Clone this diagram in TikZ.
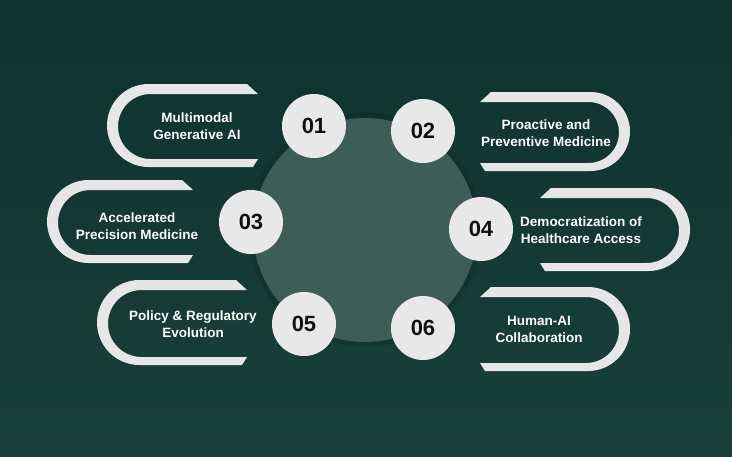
\documentclass[tikz,border=0pt]{standalone}
\usepackage{fontspec}
\setmainfont{Liberation Sans}
\definecolor{bgtop}{HTML}{0E322D}
\definecolor{bgbot}{HTML}{1A403A}
\definecolor{bigc}{HTML}{3D5E57}
\definecolor{shapec}{HTML}{E6E6E6}
\definecolor{numc}{HTML}{E8E8E8}
\definecolor{numtxt}{HTML}{111111}
\tikzset{
  bracketfill/.style={fill=shapec, draw=none},
  numcircle/.style={circle, fill=numc, minimum size=64pt, inner sep=0pt, text=numtxt, font=\fontsize{22}{24}\selectfont\bfseries},
  label/.style={text=white, align=center, font=\fontsize{13.5}{17}\selectfont\bfseries}
}
% left-facing bracket: L,T,B,R (pixel coords, y down)
\newcommand{\myLbracket}[4]{%
  \pgfmathsetmacro{\ro}{(#3-#2)/2}%
  \pgfmathsetmacro{\ri}{((#3-8)-(#2+10))/2}%
  \fill[bracketfill] (#4-11,#2) -- (#1+\ro,#2) arc[start angle=270,end angle=90,radius=\ro]
    -- (#4-5,#3) -- (#4,#3-8) -- (#1+11+\ri,#3-8) arc[start angle=90,end angle=270,radius=\ri]
    -- (#4,#2+10) -- cycle;}
% right-facing bracket: Rr,T,B,Lend
\newcommand{\myRbracket}[4]{%
  \pgfmathsetmacro{\ro}{(#3-#2)/2}%
  \pgfmathsetmacro{\ri}{((#3-8)-(#2+10))/2}%
  \fill[bracketfill] (#4+11,#2) -- (#1-\ro,#2) arc[start angle=270,end angle=450,radius=\ro]
    -- (#4+5,#3) -- (#4,#3-8) -- (#1-11-\ri,#3-8) arc[start angle=90,end angle=-90,radius=\ri]
    -- (#4,#2+10) -- cycle;}
\begin{document}
\begin{tikzpicture}[x=1pt,y=-1pt]
\shade[top color=bgtop, bottom color=bgbot] (0,0) rectangle (732,456);
\useasboundingbox (0,0) rectangle (732,456);
\fill[black, opacity=0.10] (365,230) circle[radius=117];
\node[circle, fill=bigc, minimum size=224pt, inner sep=0pt] (center) at (365,230) {};
\myLbracket{107}{84}{167}{258}
\myRbracket{630}{92}{171}{480}
\myLbracket{47}{180}{263}{193}
\myRbracket{690}{188}{271}{540}
\myLbracket{97}{280}{365}{247}
\myRbracket{630}{287}{371}{480}
\node[numcircle] (n1) at (314,126) {01};
\node[numcircle] (n2) at (423,131) {02};
\node[numcircle] (n3) at (251,222) {03};
\node[numcircle] (n4) at (481,229) {04};
\node[numcircle] (n5) at (304,324) {05};
\node[numcircle] (n6) at (423,328) {06};
\node[label] (t1) at (197,126) {Multimodal\\Generative AI};
\node[label] (t2) at (546,133) {Proactive and\\Preventive Medicine};
\node[label] (t3) at (137,226) {Accelerated\\Precision Medicine};
\node[label] (t4) at (581,230) {Democratization of\\Healthcare Access};
\node[label] (t5) at (193,324) {Policy \& Regulatory\\Evolution};
\node[label] (t6) at (539,329) {Human-AI\\Collaboration};
\end{tikzpicture}
\end{document}
